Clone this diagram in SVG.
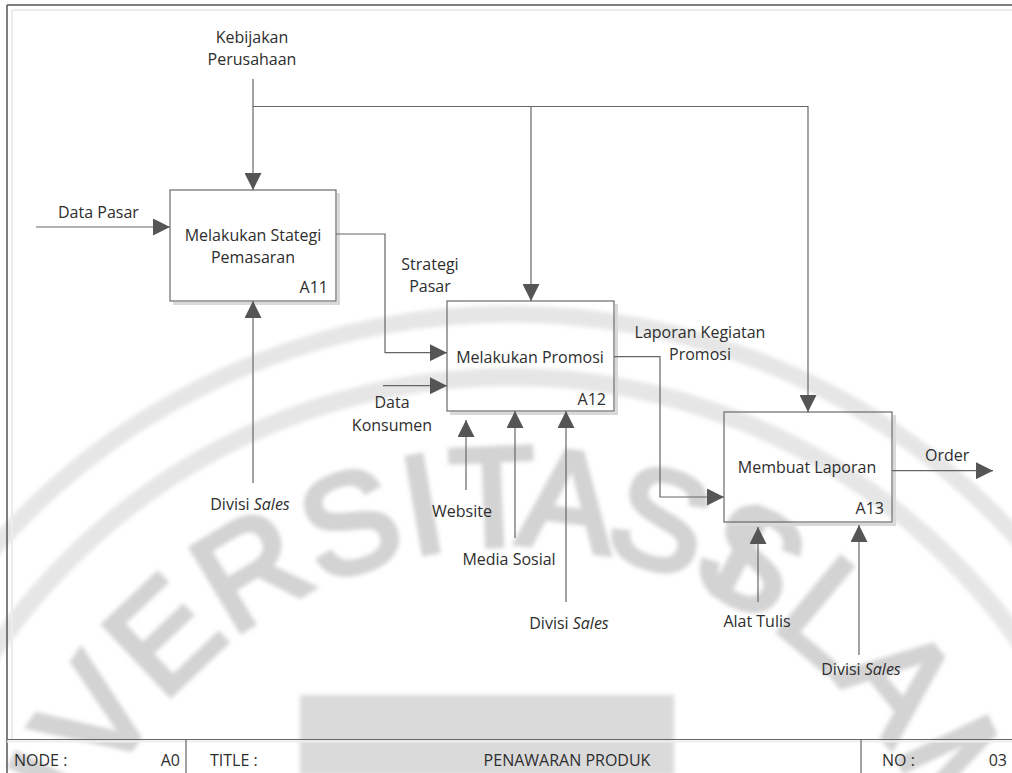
<svg xmlns="http://www.w3.org/2000/svg" xmlns:xlink="http://www.w3.org/1999/xlink" width="1012" height="773" viewBox="0 0 1012 773">
  <style>
    .lbl { font-family: "Open Sans", "Noto Sans", "Liberation Sans", sans-serif; font-size: 16px; fill: #2e2e2e; }
    .mid { text-anchor: middle; }
    .end { text-anchor: end; }
    .box { fill: none; stroke: #6a6a6a; stroke-width: 1.2; }
    .shadow { fill: none; stroke: #d9d9d9; stroke-width: 3; }
    .wire { fill: none; stroke: #666666; stroke-width: 1.2; }
    .frame { fill: none; stroke: #555555; stroke-width: 1.5; }
    .frame-soft { fill: none; stroke: #ececec; stroke-width: 2; }
    .wm { font-family: "Liberation Sans", "DejaVu Sans", sans-serif; font-size: 140px; fill: #d3d3d3; stroke: #d3d3d3; stroke-width: 6; }
  </style>
  <defs>
    <marker id="arrow" markerUnits="userSpaceOnUse" markerWidth="17" markerHeight="17" refX="17" refY="8.5" orient="auto">
      <path d="M0,0 L17,8.5 L0,17 Z" fill="#555555"/>
    </marker>
    <path id="ring-text" d="M82.4,1155.6 A455,455 0 1 1 937.6,1155.6"/>
    <filter id="soft" x="-10%" y="-10%" width="120%" height="120%">
      <feGaussianBlur stdDeviation="2"/>
    </filter>
  </defs>

  <rect width="1012" height="773" fill="#ffffff"/>

  <!-- background seal -->
  <g id="seal" filter="url(#soft)">
    <circle cx="510" cy="1000" r="686" fill="none" stroke="#e6e6e6" stroke-width="17"/>
    <circle cx="510" cy="1000" r="623" fill="none" stroke="#e6e6e6" stroke-width="18"/>
    <text class="wm" letter-spacing="2"><textPath xlink:href="#ring-text" startOffset="138">UNIVERSIT<tspan dx="-13">A</tspan><tspan dx="-10">S</tspan><tspan dx="-30"> I</tspan><tspan dx="-58">SLAM</tspan></textPath></text>
    <rect x="300" y="695" width="374" height="80" fill="#dadada"/>
  </g>

  <!-- sheet frame -->
  <g id="frame">
    <line class="frame-soft" x1="12" y1="10" x2="1012" y2="10"/>
    <line class="frame-soft" x1="12" y1="10" x2="12" y2="740"/>
    <line class="frame" x1="7" y1="5" x2="1012" y2="5"/>
    <line class="frame" x1="7" y1="5" x2="7" y2="773"/>
  </g>

  <!-- activity boxes -->
  <g id="A11">
    <path class="shadow" d="M338.5,193 V303.5 H173"/>
    <rect class="box" x="170" y="190" width="166" height="111"/>
    <text class="lbl mid" x="253" y="241">Melakukan Stategi</text>
    <text class="lbl mid" x="253" y="263">Pemasaran</text>
    <text class="lbl end" x="328" y="293">A11</text>
  </g>
  <g id="A12">
    <path class="shadow" d="M616.5,304 V413.5 H450"/>
    <rect class="box" x="447" y="301" width="167" height="110"/>
    <text class="lbl mid" x="530" y="363">Melakukan Promosi</text>
    <text class="lbl end" x="606" y="405">A12</text>
  </g>
  <g id="A13">
    <path class="shadow" d="M894.5,415 V524.5 H727"/>
    <rect class="box" x="724" y="412" width="168" height="110"/>
    <text class="lbl mid" x="807" y="473">Membuat Laporan</text>
    <text class="lbl end" x="884" y="514">A13</text>
  </g>

  <!-- arrows between and into activities -->
  <g id="connectors">
    <path class="wire" d="M253,79 V190" marker-end="url(#arrow)"/>
    <path class="wire" d="M253,106.5 H808 V412" marker-end="url(#arrow)"/>
    <path class="wire" d="M531,106.5 V301" marker-end="url(#arrow)"/>
    <path class="wire" d="M36,227 H170" marker-end="url(#arrow)"/>
    <path class="wire" d="M336,234 H385 V352.7 H447" marker-end="url(#arrow)"/>
    <path class="wire" d="M383,385.7 H447" marker-end="url(#arrow)"/>
    <path class="wire" d="M614,356.7 H660 V497 H724" marker-end="url(#arrow)"/>
    <path class="wire" d="M892,470.7 H993" marker-end="url(#arrow)"/>
    <path class="wire" d="M253,483 V301" marker-end="url(#arrow)"/>
    <path class="wire" d="M466,490 V420" marker-end="url(#arrow)"/>
    <path class="wire" d="M515,538 V411" marker-end="url(#arrow)"/>
    <path class="wire" d="M566,602 V411" marker-end="url(#arrow)"/>
    <path class="wire" d="M758,602 V527" marker-end="url(#arrow)"/>
    <path class="wire" d="M859,655 V525" marker-end="url(#arrow)"/>
  </g>

  <!-- arrow labels -->
  <g id="labels">
    <text class="lbl mid" x="252" y="43">Kebijakan</text>
    <text class="lbl mid" x="252" y="65">Perusahaan</text>
    <text class="lbl" x="58" y="218">Data Pasar</text>
    <text class="lbl mid" x="430" y="270">Strategi</text>
    <text class="lbl mid" x="430" y="292">Pasar</text>
    <text class="lbl mid" x="392" y="408">Data</text>
    <text class="lbl mid" x="392" y="431">Konsumen</text>
    <text class="lbl mid" x="700" y="338">Laporan Kegiatan</text>
    <text class="lbl mid" x="700" y="360">Promosi</text>
    <text class="lbl" x="925" y="461">Order</text>
    <text class="lbl mid" x="250" y="510">Divisi <tspan font-style="italic">Sales</tspan></text>
    <text class="lbl mid" x="462" y="517">Website</text>
    <text class="lbl mid" x="509" y="565">Media Sosial</text>
    <text class="lbl mid" x="569" y="629">Divisi <tspan font-style="italic">Sales</tspan></text>
    <text class="lbl mid" x="757" y="627">Alat Tulis</text>
    <text class="lbl mid" x="861" y="675">Divisi <tspan font-style="italic">Sales</tspan></text>
  </g>

  <!-- title block -->
  <g id="title-block">
    <line x1="7" y1="741.5" x2="1012" y2="741.5" stroke="#eeeeee" stroke-width="2"/>
    <line x1="7" y1="739.5" x2="1012" y2="739.5" stroke="#666666" stroke-width="1.2"/>
    <line x1="186" y1="740" x2="186" y2="773" stroke="#666666" stroke-width="1.2"/>
    <line x1="861" y1="740" x2="861" y2="773" stroke="#666666" stroke-width="1.2"/>
    <text class="lbl" x="14" y="766">NODE :</text>
    <text class="lbl end" x="180" y="766">A0</text>
    <text class="lbl" x="210" y="766">TITLE :</text>
    <text class="lbl mid" x="567" y="766">PENAWARAN PRODUK</text>
    <text class="lbl" x="882" y="766">NO :</text>
    <text class="lbl end" x="1007" y="766">03</text>
  </g>
</svg>
